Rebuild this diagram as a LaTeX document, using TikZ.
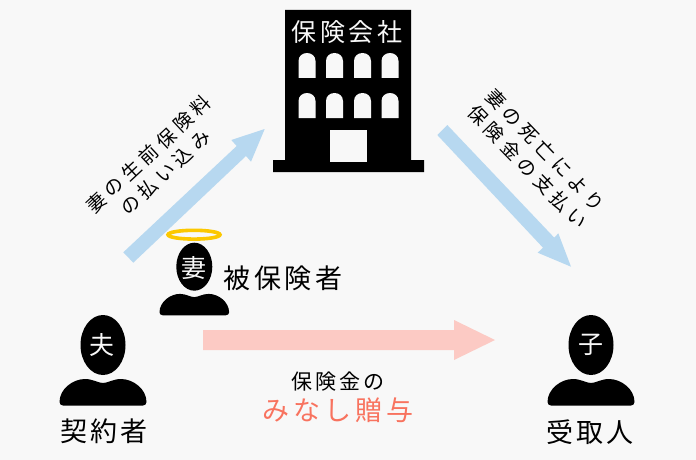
\documentclass[tikz,border=0pt]{standalone}
\usepackage{fontspec}
\newfontfamily\jpfont{Noto Sans CJK JP}
\definecolor{bgpage}{HTML}{F8F8F8}
\definecolor{flowblue}{HTML}{B7D8F0}
\definecolor{giftpink}{HTML}{FCCAC4}
\definecolor{giftred}{HTML}{F8735F}
\definecolor{halogold}{HTML}{FCC800}
\newcommand{\jpsize}[2]{\jpfont\fontsize{#1}{#1}\selectfont\addfontfeature{LetterSpace=#2}}
\tikzset{every node/.style={inner sep=0pt, text=black},
  whitetext/.style={text=bgpage},
  window/.pic={\fill[bgpage] (0,25) -- (0,8) .. controls (0,3) and (4,0) .. (8.5,0) .. controls (13,0) and (17,3) .. (17,8) -- (17,25) -- cycle;},
  person/.pic={\fill[black] (0,0) ellipse[x radius=22.5, y radius=30];
    \fill[black] (-39.5,60.7) .. controls (-42,60.7) and (-43.5,59) .. (-43.5,57)
      .. controls (-43.5,44) and (-30,34) .. (-18,34) .. controls (-10,34) and (-5,38) .. (0,38)
      .. controls (5,38) and (10,34) .. (18,34) .. controls (30,34) and (43.5,44) .. (43.5,57)
      .. controls (43.5,59) and (42,60.7) .. (39.5,60.7) -- cycle;}}

\begin{document}
\begin{tikzpicture}[x=1pt,y=-1pt]
   \useasboundingbox (0,0) rectangle (696,460);
   \fill[bgpage] (0,0) rectangle (696,460);
   % company
   \fill[black] (285,10) -- (411,10) -- (411,160) -- (424,160) -- (424,172) -- (273,172) -- (273,160) -- (285,160) -- cycle;
   \pic at (298.5,53) {window};
   \pic at (326,53) {window};
   \pic at (354,53) {window};
   \pic at (381.5,53) {window};
   \pic at (298.5,93) {window};
   \pic at (326,93) {window};
   \pic at (354,93) {window};
   \pic at (381.5,93) {window};
   \fill[bgpage] (330,130) rectangle (366.5,162);
   \node[whitetext, font=\jpsize{25}{14}] (company) at (347,32) {保険会社};
   % arrows
   \fill[flowblue] (123.3,252.3) -- (236.7,146) -- (231.3,140) -- (264.7,129) -- (251,161.7) -- (246,156) -- (133.3,262.7) -- cycle;
   \fill[flowblue] (447.3,125) -- (554.3,237.7) -- (558.3,233.3) -- (571,266.7) -- (537.7,252.7) -- (543,247.7) -- (437.3,135) -- cycle;
   \fill[giftpink] (203,330) -- (454,330) -- (454,320) -- (495,340) -- (454,360) -- (454,350) -- (203,350) -- cycle;
   \node[rotate=43, align=center, font=\jpsize{19}{25}] (premium) at (157,163.5) {妻の生前保険料\\[5.5pt]の払い込み};
   \node[rotate=-46, align=center, font=\jpsize{19}{25}] (payout) at (536.5,158.5) {妻の死亡により\\[5.5pt]保険金の支払い};
   % people
   \pic at (103,345) {person};
   \pic[scale=0.8] at (194.3,266.7) {person};
   \pic at (591,345) {person};
   \draw[halogold, line width=3.6pt] (194,234.7) ellipse[x radius=26, y radius=4.4];
   \node[whitetext, font=\jpsize{25}{0}] (husband) at (102,345) {夫};
   \node[whitetext, font=\jpsize{25}{0}] (wife) at (194,268) {妻};
   \node[whitetext, font=\jpsize{25}{0}] (child) at (591,345) {子};
   \node[font=\jpsize{27}{13}] (insured) at (283,278) {被保険者};
   \node[font=\jpsize{27}{10}] (holder) at (104,431) {契約者};
   \node[font=\jpsize{27}{10}] (receiver) at (590,432) {受取人};
   \node[font=\jpsize{21}{15}] (money) at (338,382) {保険金の};
   \node[font=\jpsize{27}{15}, text=giftred] (gift) at (338,410) {みなし贈与};
\end{tikzpicture}
\end{document}
